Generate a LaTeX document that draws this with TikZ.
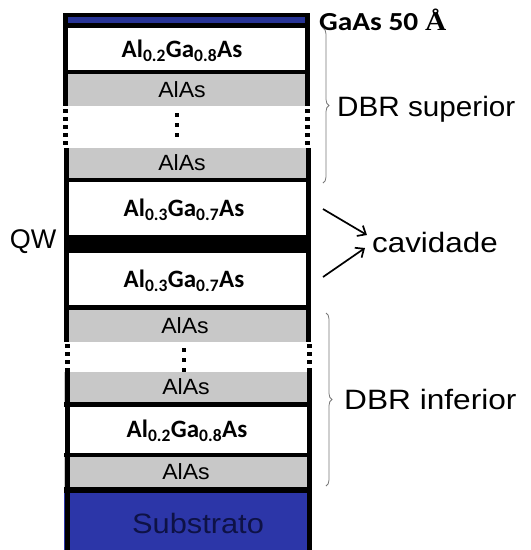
\documentclass[tikz,border=0pt]{standalone}
\usepackage{fontspec}
\setmainfont{Liberation Sans}
\newfontfamily\calfont{Carlito}
\newfontfamily\serfont{Liberation Serif}
\usetikzlibrary{decorations.pathreplacing,arrows.meta,calc}
\definecolor{layergray}{RGB}{200,200,200}
\definecolor{layerblue}{RGB}{44,54,168}
\definecolor{topblue}{RGB}{40,52,150}
\definecolor{subtext}{RGB}{14,18,70}
\definecolor{bracegray}{RGB}{120,120,120}
\tikzset{
  lbl/.style={inner sep=0pt, anchor=center},
  brc/.style={decorate, decoration={brace, amplitude=6pt}, draw=bracegray, line width=0.8pt},
  arr/.style={-{Straight Barb[length=7pt,width=12pt]}, line width=1.7pt},
  dotline/.style={line width=5pt, dash pattern=on 4pt off 4pt},
  middots/.style={line width=4pt, dash pattern=on 4pt off 6pt}
}
\newcommand{\alga}[2]{{\calfont\bfseries\fontsize{25}{28}\selectfont Al\textsubscript{#1}Ga\textsubscript{#2}As}}
\newcommand{\alas}{\scalebox{1.05}[1]{\fontsize{22}{24}\selectfont AlAs}}
\begin{document}
\begin{tikzpicture}[x=1pt,y=-1pt]
\useasboundingbox (0,0) rectangle (531,550);
% layer fills
\fill[black] (64,13) rectangle (310,17);
\fill[topblue] (64,17) rectangle (310,23);
\fill[black] (64,23) rectangle (310,28);
\fill[white] (64,28) rectangle (310,70);
\fill[black] (64,70) rectangle (310,74);
\fill[layergray] (64,74) rectangle (310,106);
\fill[layergray] (64,148) rectangle (310,178);
\fill[black] (64,178) rectangle (310,182);
\fill[black] (64,235) rectangle (310,253);
\fill[black] (64,305) rectangle (310,310);
\fill[layergray] (64,310) rectangle (310,342);
\fill[layergray] (64,372) rectangle (310,402);
\fill[black] (64,402) rectangle (310,407);
\fill[black] (64,453) rectangle (310,457);
\fill[layergray] (64,457) rectangle (310,487);
\fill[black] (64,487) rectangle (310,493);
\fill[layerblue] (64,493) rectangle (310,550);
% vertical borders
\fill[black] (63,13) rectangle (68,106);
\fill[black] (305,13) rectangle (310,106);
\fill[black] (64,148) rectangle (69,342);
\fill[black] (306,148) rectangle (311,342);
\fill[black] (65,372) rectangle (70,550);
\fill[black] (307,372) rectangle (312,550);
% dotted gaps
\draw[dotline] (65.5,109) -- (65.5,148);
\draw[dotline] (307.5,109) -- (307.5,148);
\draw[middots] (177,113) -- (177,140);
\draw[dotline] (67,344) -- (67,372);
\draw[dotline] (309,344) -- (309,372);
\draw[middots] (184,348) -- (184,372);
% layer labels
\node[lbl] (top) at (182,51) {\alga{0.2}{0.8}};
\node[lbl] (alas1) at (182,90) {\alas};
\node[lbl] (alas2) at (182,163) {\alas};
\node[lbl] (cav1) at (184,210) {\alga{0.3}{0.7}};
\node[lbl] (cav2) at (184,281) {\alga{0.3}{0.7}};
\node[lbl] (alas3) at (185,326) {\alas};
\node[lbl] (alas4) at (186,387) {\alas};
\node[lbl] (bot) at (187,431) {\alga{0.2}{0.8}};
\node[lbl] (alas5) at (186,472) {\alas};
\node[lbl, text=subtext] (sub) at (198,523) {\scalebox{1.1}[1]{\fontsize{28}{30}\selectfont Substrato}};
% side labels
\node[lbl, anchor=west] (gaas) at (319,20) {\scalebox{1.13}[1]{\calfont\bfseries\fontsize{26}{28}\selectfont GaAs 50 {\serfont\bfseries Å}}};
\node[lbl, anchor=west] (dbrs) at (337,109) {\scalebox{1.06}[1]{\fontsize{28}{30}\selectfont DBR superior}};
\node[lbl, anchor=west] (dbri) at (344,399) {\scalebox{1.13}[1]{\fontsize{28}{30}\selectfont DBR inferior}};
\node[lbl, anchor=west] (cav) at (372,242) {\scalebox{1.12}[1]{\fontsize{28}{30}\selectfont cavidade}};
\node[lbl] (qw) at (33,242) {\fontsize{27}{30}\selectfont QW};
% braces
\coordinate (bs1) at (323,28);
\coordinate (bs2) at (323,183);
\coordinate (bi1) at (326,313);
\coordinate (bi2) at (326,486);
\draw[brc] (bs1) -- (bs2);
\draw[brc] (bi1) -- (bi2);
% arrows
\coordinate (a1) at (323,209);
\coordinate (a2) at (323,277);
\draw[arr] (a1) -- ($(cav.west)+(-5,-7)$);
\draw[arr] (a2) -- ($(cav.west)+(-7,6)$);
\end{tikzpicture}
\end{document}
